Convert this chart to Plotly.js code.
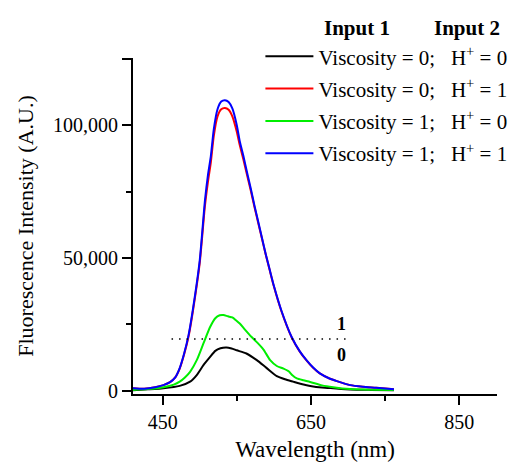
<!DOCTYPE html>
<html>
<head>
<meta charset="utf-8">
<script src="https://cdn.plot.ly/plotly-3.0.1.min.js"></script>
<style>html,body{margin:0;padding:0;background:#fff;}#chart{width:511px;height:462px;}</style>
</head>
<body>
<div id="chart"></div>
<script>
// Wavelength samples (nm) and intensities for each spectrum
const blackX = [410, 430, 451, 473, 487, 496, 505, 514, 521, 528, 536, 543, 550, 563, 577, 590, 604, 615, 626, 640, 649, 665, 680, 703, 730, 762];
const blackY = [200, 500, 900, 1800, 3400, 5900, 9600, 12700, 15000, 16000, 16300, 15900, 15200, 14000, 11500, 8600, 5500, 4300, 3400, 2300, 1800, 1200, 900, 450, 300, 200];

const redX = [410, 425, 440, 451, 460, 467, 473, 479, 485, 491, 500, 507, 511, 515, 519, 524, 529, 534, 539, 544, 550, 554, 559, 564, 569, 574, 579, 584, 589, 594, 600, 610, 624, 635, 644, 653, 662, 675, 685, 703, 720, 738, 762];
const redY = [900, 700, 1300, 2100, 3200, 5000, 8300, 13700, 20500, 30300, 48000, 69500, 78500, 86000, 96000, 103300, 106000, 106500, 105800, 103300, 97500, 92500, 87000, 81000, 75200, 69000, 63100, 57200, 51300, 45800, 39300, 30100, 20100, 14700, 11400, 8600, 6500, 4600, 3600, 2100, 1500, 1100, 500];

const greenX = [410, 430, 451, 465, 473, 480, 487, 496, 505, 514, 521, 527, 532, 538, 544, 549, 554, 561, 570, 578, 586, 595, 604, 613, 620, 625, 631, 640, 649, 665, 680, 703, 730, 762];
const greenY = [300, 600, 1300, 2300, 3400, 5000, 7100, 11500, 17800, 24000, 27300, 28400, 28500, 28000, 27600, 26500, 25300, 23000, 20200, 18000, 15500, 11500, 9300, 8300, 7300, 5800, 4600, 3900, 3300, 2000, 1300, 600, 350, 300];

const blueX = [410, 425, 440, 451, 460, 467, 473, 479, 485, 491, 500, 507, 511, 515, 519, 524, 529, 534, 539, 544, 550, 554, 559, 564, 569, 574, 579, 584, 589, 594, 600, 610, 624, 635, 644, 653, 662, 675, 685, 703, 720, 738, 762];
const blueY = [900, 700, 1300, 2100, 3200, 5000, 8500, 14000, 21000, 31000, 49000, 71500, 81000, 88300, 98500, 106000, 108900, 109400, 108700, 106300, 100000, 94000, 88300, 82000, 76000, 69500, 63500, 57500, 51500, 46000, 39500, 30300, 20200, 14800, 11500, 8700, 6500, 4600, 3600, 2100, 1500, 1100, 500];

const seriesNames = [
  "Viscosity = 0;\u00a0\u00a0 H<sup>+</sup> = 0",
  "Viscosity = 0;\u00a0\u00a0 H<sup>+</sup> = 1",
  "Viscosity = 1;\u00a0\u00a0 H<sup>+</sup> = 0",
  "Viscosity = 1;\u00a0\u00a0 H<sup>+</sup> = 1"
];
const seriesColors = ["#000000", "#ff0000", "#00ee00", "#0000ff"];

// Threshold line between logic outputs 0 and 1
const thresholdX = [462, 700];
const thresholdY = [19500, 19500];
const outputLabels = ["1", "0"];
const outputLabelX = [691, 691];
const outputLabelY = [25300, 13300];

const xTickVals = [450, 650, 850];
const xMinorVals = [550, 750];
const yTickVals = [0, 50000, 100000, 125000];
const yTickText = ["0", "50,000", "100,000", ""];
const yMinorVals = [25000, 75000];

const headers = ["Input 1", "Input 2"];

const serif = "Liberation Serif, Times New Roman, serif";

const xs = [blackX, redX, greenX, blueX];
const ys = [blackY, redY, greenY, blueY];
const traces = xs.map((x, i) => ({
  x: x, y: ys[i], type: "scatter", mode: "lines",
  name: seriesNames[i],
  legendgroup: "g" + i,
  line: {color: seriesColors[i], width: 2, shape: "spline", smoothing: 0.6}
}));
traces.push({
  x: thresholdX, y: thresholdY, type: "scatter", mode: "lines",
  showlegend: false, hoverinfo: "skip",
  line: {color: "#000", width: 1.5, dash: "1.5px,6px"}
});

const annotations = outputLabels.map((t, i) => ({
  x: outputLabelX[i], y: outputLabelY[i], xref: "x", yref: "y",
  text: "<b>" + t + "</b>", showarrow: false,
  font: {family: serif, size: 18, color: "#000"}
}));
annotations.push(
  {x: 0.615, y: 1.089, xref: "paper", yref: "paper", xanchor: "center", yanchor: "middle", text: "<b>" + headers[0] + "</b>", showarrow: false, font: {family: serif, size: 21, color: "#000"}},
  {x: 0.918, y: 1.089, xref: "paper", yref: "paper", xanchor: "center", yanchor: "middle", text: "<b>" + headers[1] + "</b>", showarrow: false, font: {family: serif, size: 21, color: "#000"}}
);

const layout = {
  width: 511, height: 462,
  margin: {l: 133, r: 14, t: 58, b: 68, pad: 0, autoexpand: false},
  paper_bgcolor: "#fff", plot_bgcolor: "#fff",
  font: {family: serif, size: 18, color: "#000"},
  showlegend: true,
  legend: {
    x: 0.35, y: 1.065, xanchor: "left", yanchor: "top",
    bgcolor: "rgba(0,0,0,0)", borderwidth: 0,
    traceorder: "grouped", tracegroupgap: 2,
    itemwidth: 48,
    font: {family: serif, size: 21, color: "#000"}
  },
  xaxis: {
    range: [410, 901], showgrid: false, zeroline: false, automargin: false,
    showline: true, linecolor: "#000", linewidth: 2,
    ticks: "outside", ticklen: 9, tickwidth: 2, tickcolor: "#000",
    tickmode: "array", tickvals: xTickVals,
    minor: {tickmode: "array", tickvals: xMinorVals, ticks: "outside", ticklen: 5, tickwidth: 2, tickcolor: "#000"},
    tickfont: {family: serif, size: 20},
    title: {text: "Wavelength (nm)", font: {family: serif, size: 23}, standoff: 10}
  },
  yaxis: {
    range: [-1250, 125300], showgrid: false, zeroline: false, automargin: false,
    showline: true, linecolor: "#000", linewidth: 2,
    ticks: "outside", ticklen: 9, tickwidth: 2, tickcolor: "#000",
    tickmode: "array", tickvals: yTickVals, ticktext: yTickText,
    minor: {tickmode: "array", tickvals: yMinorVals, ticks: "outside", ticklen: 5, tickwidth: 2, tickcolor: "#000"},
    tickfont: {family: serif, size: 20},
    title: {text: "Fluorescence Intensity (A.U.)", font: {family: serif, size: 22}, standoff: 13}
  },
  annotations: annotations
};

Plotly.newPlot("chart", traces, layout, {staticPlot: true, displayModeBar: false});
</script>
</body>
</html>
